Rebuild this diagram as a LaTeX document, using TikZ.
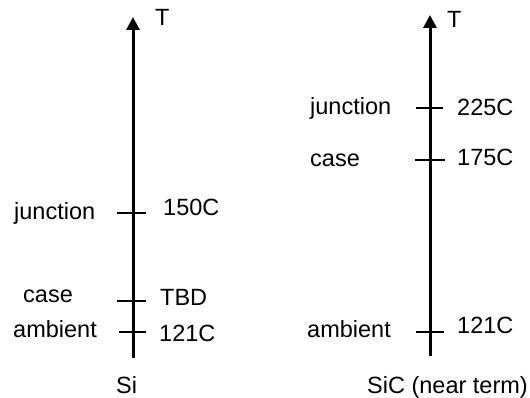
\documentclass[tikz,border=0pt]{standalone}
\usepackage{fontspec}
\setmainfont{Liberation Sans}
\usetikzlibrary{arrows.meta}
\tikzset{
  axisline/.style={line width=3pt,-{Triangle[length=13pt,width=13pt]}},
  tickline/.style={line width=1.2pt},
  lbl/.style={anchor=base west,inner sep=0pt,font=\fontsize{23.5}{28}\selectfont}
}
\begin{document}
\begin{tikzpicture}[x=1pt,y=-1pt]
\useasboundingbox (0,0) rectangle (530,398);
% Si axis
\coordinate (sbot) at (133,358);
\coordinate (stop) at (133,17);
\draw[axisline] (sbot) -- (stop);
\node[lbl] (sT) at (155,26) {T};
\coordinate (sj1) at (117,213); \coordinate (sj2) at (146,213);
\coordinate (sc1) at (117,301); \coordinate (sc2) at (146,301);
\coordinate (sa1) at (119,332); \coordinate (sa2) at (146,332);
\draw[tickline] (sj1) -- (sj2);
\draw[tickline] (sc1) -- (sc2);
\draw[tickline] (sa1) -- (sa2);
\node[lbl] (sjl) at (14,219) {junction};
\node[lbl] (sjv) at (163,216) {150C};
\node[lbl] (scl) at (23,302) {case};
\node[lbl] (scv) at (160,305) {TBD};
\node[lbl] (sal) at (13,337) {ambient};
\node[lbl] (sav) at (159,341) {121C};
\node[lbl] (sname) at (116,393) {Si};
% SiC axis
\coordinate (cbot) at (430,356);
\coordinate (ctop) at (430,15);
\draw[axisline] (cbot) -- (ctop);
\node[lbl] (cT) at (447,28) {T};
\coordinate (cj1) at (416,108); \coordinate (cj2) at (443,108);
\coordinate (cc1) at (415,160); \coordinate (cc2) at (445,160);
\coordinate (ca1) at (416,332); \coordinate (ca2) at (444,332);
\draw[tickline] (cj1) -- (cj2);
\draw[tickline] (cc1) -- (cc2);
\draw[tickline] (ca1) -- (ca2);
\node[lbl] (cjl) at (310,115) {junction};
\node[lbl] (cjv) at (457,116) {225C};
\node[lbl] (ccl) at (310,167) {case};
\node[lbl] (ccv) at (457,166) {175C};
\node[lbl] (cal) at (307,337) {ambient};
\node[lbl] (cav) at (457,333) {121C};
\node[lbl] (cname) at (367,393) {SiC (near term)};
\end{tikzpicture}
\end{document}
